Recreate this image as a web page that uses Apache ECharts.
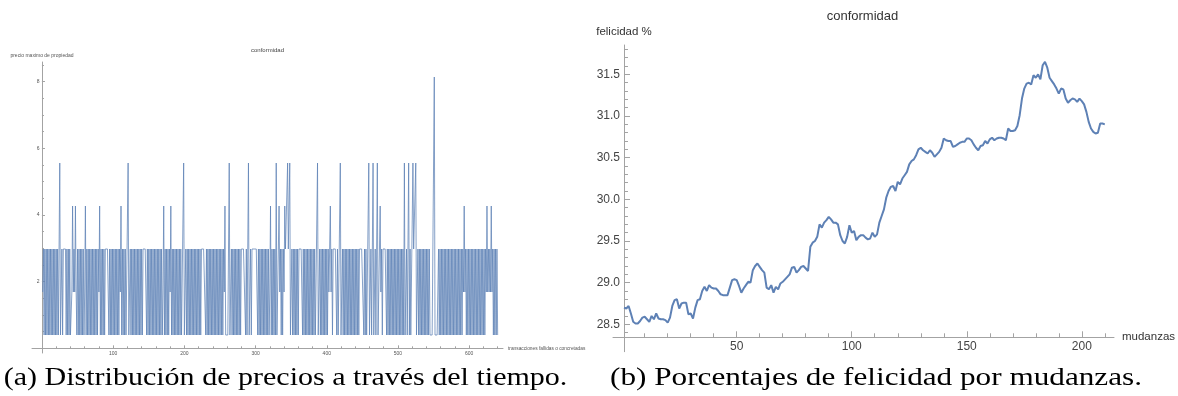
<!DOCTYPE html>
<html>
<head>
<meta charset="utf-8">
<script src="https://cdn.jsdelivr.net/npm/echarts@6/dist/echarts.min.js"></script>
<style>
  html, body { margin: 0; padding: 0; background: #ffffff; }
  #chart { width: 1178px; height: 396px; }
</style>
</head>
<body>
<div id="chart"></div>
<script>
// Price levels reached in the market simulation
const L = 0.4, M = 1.69, H = 2.98, A = 4.27, B = 5.56, C = 8.14;

// Maximum property price for each failed or completed transaction (1..640)
const priceStartX = 1;
const priceStepX = 1;
const prices = [
  M,H,L,H,L,H,L,H,L,H,L,H,L,H,L,H,L,H,L,H,
  L,H,L,L,B,L,L,H,L,H,H,H,H,L,H,L,H,L,H,L,
  L,M,A,M,H,M,A,M,L,H,L,H,L,H,L,H,L,H,L,M,
  A,L,H,L,H,L,H,L,H,L,H,L,H,L,H,L,H,L,H,M,
  A,L,H,L,H,L,H,L,H,H,H,H,H,L,H,L,H,L,H,L,
  H,L,H,L,H,L,H,L,H,M,A,L,H,L,H,L,H,L,L,L,
  B,L,L,H,L,H,L,H,L,H,L,H,L,H,L,H,L,H,L,H,
  L,H,H,H,H,H,L,H,L,H,L,H,L,H,L,H,L,H,L,H,
  L,H,L,H,L,H,L,H,L,M,A,L,H,L,H,L,H,L,H,M,
  A,L,H,L,H,L,H,L,H,L,H,L,H,L,H,L,L,L,B,L,
  L,H,L,H,L,H,L,H,L,H,L,H,L,H,L,H,L,H,L,H,
  L,H,L,H,H,H,H,H,H,L,H,L,H,L,H,L,H,L,H,L,
  H,L,H,L,H,L,H,L,H,L,H,L,H,L,H,M,A,L,L,L,
  L,L,B,L,L,H,L,H,L,H,L,H,L,H,L,H,L,H,L,H,
  H,H,H,H,H,L,H,L,L,B,L,L,H,L,H,H,H,H,H,H,
  H,H,L,H,L,H,L,H,L,H,L,H,L,H,L,H,L,H,L,M,
  A,L,H,L,H,L,H,L,B,L,M,M,A,M,H,L,H,L,H,M,
  A,H,H,H,B,H,H,B,L,L,H,L,H,L,H,L,H,L,H,L,
  H,H,H,H,H,L,H,L,H,L,H,L,H,L,H,L,H,L,H,L,
  H,L,H,L,L,L,B,L,L,H,L,H,L,H,L,H,L,H,L,H,
  L,H,M,M,A,M,H,L,H,H,H,H,H,L,H,L,L,L,B,L,
  L,H,L,H,L,H,L,H,L,H,L,H,L,H,L,H,L,H,L,H,
  L,H,L,H,L,H,H,H,H,H,H,L,H,L,H,L,L,L,B,L,
  L,H,L,L,B,L,L,H,L,L,B,L,M,M,A,M,H,L,H,H,
  H,H,H,L,H,L,H,L,H,L,H,L,H,L,H,L,H,L,H,L,
  H,L,H,L,H,L,H,L,B,L,L,H,L,L,B,L,H,L,L,L,
  B,H,H,H,B,L,L,H,L,H,L,H,L,H,L,H,L,H,L,H,
  L,H,L,H,L,L,L,L,L,L,C,L,L,L,L,L,H,L,H,L,
  H,L,H,L,H,L,H,L,H,L,H,L,H,L,H,L,H,L,H,L,
  H,L,H,L,H,L,H,L,H,L,H,M,A,M,H,L,H,L,H,L,
  H,L,H,L,H,L,H,L,H,L,H,L,H,L,H,L,H,L,H,L,
  H,L,H,M,A,M,H,M,H,M,A,M,H,L,H,L,H,L,H,L
];

// Happiness percentage after each move (moves 1..210)
const happiness = [
  28.70,28.69,28.72,28.63,28.53,28.51,28.51,28.54,28.58,28.59,
  28.56,28.53,28.60,28.56,28.63,28.57,28.56,28.56,28.55,28.52,
  28.58,28.72,28.79,28.80,28.69,28.75,28.76,28.76,28.62,28.63,
  28.57,28.70,28.79,28.80,28.90,28.95,28.90,28.97,28.94,28.93,
  28.93,28.90,28.86,28.85,28.85,28.85,28.94,29.03,29.04,29.03,
  28.96,28.88,28.93,28.97,29.01,29.00,29.15,29.20,29.23,29.19,
  29.15,29.12,28.94,28.92,28.97,28.88,28.95,28.92,28.99,29.01,
  29.04,29.07,29.10,29.18,29.19,29.12,29.15,29.19,29.20,29.17,
  29.14,29.43,29.48,29.50,29.55,29.70,29.66,29.72,29.75,29.79,
  29.76,29.72,29.72,29.70,29.57,29.50,29.47,29.55,29.69,29.60,
  29.62,29.51,29.55,29.57,29.57,29.54,29.52,29.53,29.60,29.55,
  29.58,29.72,29.80,29.88,30.02,30.10,30.15,30.16,30.10,30.21,
  30.18,30.25,30.29,30.33,30.42,30.46,30.48,30.53,30.60,30.62,
  30.59,30.57,30.55,30.59,30.56,30.51,30.54,30.57,30.62,30.73,
  30.71,30.70,30.70,30.63,30.64,30.66,30.68,30.69,30.69,30.73,
  30.73,30.71,30.66,30.62,30.59,30.64,30.65,30.70,30.67,30.72,
  30.74,30.71,30.73,30.74,30.74,30.73,30.71,30.85,30.82,30.82,
  30.83,30.88,31.01,31.21,31.33,31.39,31.40,31.38,31.49,31.46,
  31.50,31.44,31.61,31.65,31.58,31.46,31.42,31.38,31.33,31.27,
  31.33,31.32,31.21,31.16,31.19,31.21,31.20,31.17,31.21,31.18,
  31.14,31.05,30.93,30.85,30.81,30.79,30.80,30.91,30.91,30.90
];

// Tick values
const priceXTicks = [100, 200, 300, 400, 500, 600];
const priceYTicks = [2, 4, 6, 8];
const moveXTicks = [50, 100, 150, 200];
const happyYTicks = [28.5, 29.0, 29.5, 30.0, 30.5, 31.0, 31.5];

// Minor tick positions
function steps(from, to, step) {
  const out = [];
  for (let v = from; v <= to + 1e-9; v += step) out.push(Math.round(v * 100) / 100);
  return out;
}
const priceXMinor = steps(20, 640, 20);
const priceYMinor = steps(0.5, 8.5, 0.5);
const moveXMinor = steps(10, 210, 10);
const happyYMinor = steps(28.4, 31.8, 0.1);

// Texts
const panelTitle = 'conformidad';
const priceXName = 'transacciones fallidas o concretadas';
const priceYName = 'precio maximo de propiedad';
const moveXName = 'mudanzas';
const happyYName = 'felicidad %';
const captionA = '(a) Distribución de precios a través del tiempo.';
const captionB = '(b) Porcentajes de felicidad por mudanzas.';

// Layout of the two panels (axes cross inside the plotting box)
const panels = [
  { grid: { left: 32, top: 62, width: 471, height: 291 },
    x: [-14, 647.5], y: [-0.14, 8.59], cross: [0, 0] },
  { grid: { left: 613, top: 45, width: 501, height: 306.7 },
    x: [-3.78, 214], y: [28.171, 31.853], cross: [1, 28.344] }
];

const lineColor = '#5e81b5';
const axisColor = '#a3a3a3';
const sans = 'Liberation Sans, Arial, sans-serif';
const serifFont = '26px "Liberation Serif", "Times New Roman", serif';

function xOffset(p) {
  return -(p.cross[1] - p.y[0]) / (p.y[1] - p.y[0]) * p.grid.height;
}
function yOffset(p) {
  return -(p.cross[0] - p.x[0]) / (p.x[1] - p.x[0]) * p.grid.width;
}

function xAxisPair(gi, o) {
  const p = panels[gi];
  const base = {
    type: 'value', gridIndex: gi, min: p.x[0], max: p.x[1], position: 'bottom',
    offset: xOffset(p), splitLine: { show: false }
  };
  return [
    Object.assign({}, base, {
      axisLine: { onZero: false, lineStyle: { color: axisColor, width: 1 } },
      axisTick: { inside: true, length: o.major, customValues: o.ticks, lineStyle: { color: axisColor } },
      axisLabel: { customValues: o.ticks, fontSize: o.font, color: o.labelColor, fontFamily: sans, margin: o.margin },
      name: o.name, nameLocation: 'end', nameGap: o.nameGap,
      nameTextStyle: { fontSize: o.nameFont, color: o.nameColor, fontFamily: sans, align: 'left',
        verticalAlign: 'middle', padding: o.namePad || 0 }
    }),
    Object.assign({}, base, {
      axisLine: { show: false, onZero: false },
      axisTick: { inside: true, length: o.minor, customValues: o.minorTicks, lineStyle: { color: axisColor } },
      axisLabel: { show: false }
    })
  ];
}

function yAxisPair(gi, o) {
  const p = panels[gi];
  const base = {
    type: 'value', gridIndex: gi, min: p.y[0], max: p.y[1], position: 'left',
    offset: yOffset(p), splitLine: { show: false }
  };
  return [
    Object.assign({}, base, {
      axisLine: { onZero: false, lineStyle: { color: axisColor, width: 1 } },
      axisTick: { inside: true, length: o.major, customValues: o.ticks, lineStyle: { color: axisColor } },
      axisLabel: { customValues: o.ticks, fontSize: o.font, color: o.labelColor, fontFamily: sans,
        margin: o.margin, formatter: o.fmt },
      name: o.name, nameLocation: 'end', nameGap: o.nameGap,
      nameTextStyle: { fontSize: o.nameFont, color: o.nameColor, fontFamily: sans, align: 'center' }
    }),
    Object.assign({}, base, {
      axisLine: { show: false, onZero: false },
      axisTick: { inside: true, length: o.minor, customValues: o.minorTicks, lineStyle: { color: axisColor } },
      axisLabel: { show: false }
    })
  ];
}

const xAxes = [].concat(
  xAxisPair(0, { ticks: priceXTicks, minorTicks: priceXMinor, major: 3, minor: 2, font: 5, margin: 2.5,
    labelColor: '#555', name: priceXName, nameGap: 5, nameFont: 4.8, nameColor: '#555' }),
  xAxisPair(1, { ticks: moveXTicks, minorTicks: moveXMinor, major: 6, minor: 4, font: 12, margin: 3.5,
    labelColor: '#444', name: moveXName, nameGap: 8, nameFont: 11.5, nameColor: '#333', namePad: [10, 0, 0, 0] })
);
const yAxes = [].concat(
  yAxisPair(0, { ticks: priceYTicks, minorTicks: priceYMinor, major: 3, minor: 2, font: 5, margin: 2.5,
    labelColor: '#555', name: priceYName, nameGap: 4, nameFont: 5, nameColor: '#555',
    fmt: v => String(v) }),
  yAxisPair(1, { ticks: happyYTicks, minorTicks: happyYMinor, major: 6, minor: 4, font: 12, margin: 4,
    labelColor: '#444', name: happyYName, nameGap: 7, nameFont: 11.5, nameColor: '#333',
    fmt: v => v.toFixed(1) })
);

// Sub-figure captions, widened to the look of a LaTeX roman face
function caption(text, cx, widen) {
  return {
    type: 'text', x: cx, y: 378, scaleX: widen, scaleY: 1, silent: true,
    style: { text: text, font: serifFont, fill: '#000', align: 'center', verticalAlign: 'middle' }
  };
}

const chart = echarts.init(document.getElementById('chart'), null, { renderer: 'canvas' });
chart.setOption({
  animation: false,
  backgroundColor: '#ffffff',
  title: [
    { text: panelTitle, left: 267.5, top: 47, textAlign: 'center', padding: 0,
      textStyle: { fontSize: 6, fontWeight: 'normal', color: '#444', fontFamily: sans } },
    { text: panelTitle, left: 862.5, top: 10, textAlign: 'center', padding: 0,
      textStyle: { fontSize: 13, fontWeight: 'normal', color: '#333', fontFamily: sans } }
  ],
  graphic: [caption(captionA, 285.5, 1.155), caption(captionB, 876, 1.2)],
  grid: panels.map(p => Object.assign({ outerBoundsMode: 'none', containLabel: false }, p.grid)),
  xAxis: xAxes,
  yAxis: yAxes,
  series: [
    { type: 'line', xAxisIndex: 0, yAxisIndex: 0, symbol: 'none', silent: true,
      lineStyle: { width: 0.75, color: lineColor },
      data: prices.map((v, i) => [priceStartX + i * priceStepX, v]) },
    { type: 'line', xAxisIndex: 2, yAxisIndex: 2, symbol: 'none', silent: true,
      lineStyle: { width: 2, color: lineColor },
      data: happiness.map((v, i) => [i + 1, v]) }
  ]
});
</script>
</body>
</html>
